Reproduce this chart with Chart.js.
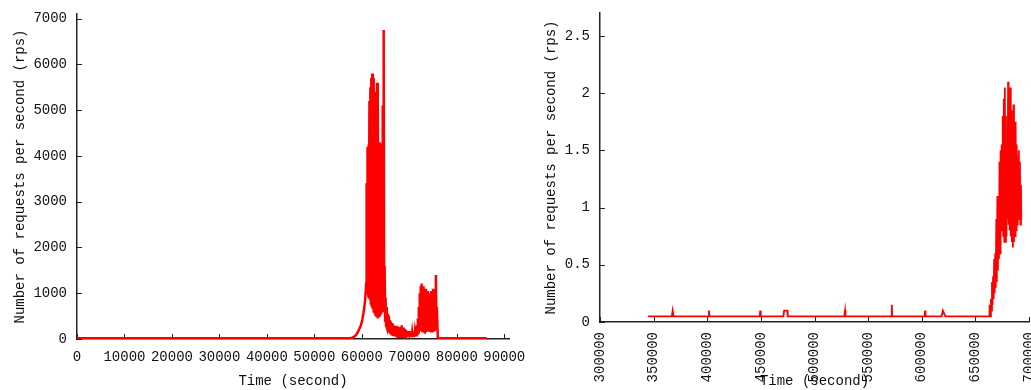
<!DOCTYPE html>
<html>
<head>
<meta charset="utf-8">
<title>Number of requests per second</title>
<script src="https://cdn.jsdelivr.net/npm/chart.js@4.4.1/dist/chart.umd.min.js"></script>
<style>
  body { margin: 0; background: #fff; }
  #wrap { position: relative; width: 1031px; height: 390px; overflow: hidden; }
  #leftChart { position: absolute; left: 0; top: 0; }
  #rightChart { position: absolute; left: 520px; top: 0; }
</style>
</head>
<body>
<div id="wrap">
  <canvas id="leftChart" width="531" height="390"></canvas>
  <canvas id="rightChart" width="511" height="390"></canvas>
</div>
<script>
// left plot: one day of traffic (time in seconds, rps)
const leftTime = [
  0, 57500, 58000, 58500, 59000, 59400, 59800, 60100, 60400, 60700, 60900,
  61000, 61100, 61200, 61300, 61400, 61500, 61600, 61700, 61800, 61900,
  62000, 62100, 62200, 62300, 62400, 62500, 62600, 62700, 62800, 62900,
  63000, 63100, 63200, 63300, 63400, 63500, 63600, 63700, 63800, 63900,
  64000, 64100, 64200, 64300, 64400, 64500, 64600, 64700, 64800, 64900,
  65000, 65100, 65200, 65300, 65400, 65500, 65600, 65700, 65800, 65900,
  66000, 66100, 66200, 66300, 66400, 66500, 66600, 66700, 66800, 66900,
  67000, 67100, 67200, 67300, 67400, 67500, 67600, 67700, 67800, 67900,
  68000, 68100, 68200, 68300, 68400, 68500, 68600, 68700, 68800, 68900,
  69000, 69100, 69200, 69300, 69400, 69500, 69600, 69700, 69800, 69900,
  70000, 70100, 70200, 70300, 70400, 70500, 70600, 70700, 70800, 70900,
  71000, 71100, 71200, 71300, 71400, 71500, 71600, 71700, 71800, 71900,
  72000, 72100, 72200, 72300, 72400, 72500, 72600, 72700, 72800, 72900,
  73000, 73100, 73200, 73300, 73400, 73500, 73600, 73700, 73800, 73900,
  74000, 74100, 74200, 74300, 74400, 74500, 74600, 74700, 74800, 74900,
  75000, 75100, 75200, 75300, 75400, 75500, 75600, 75700, 75800, 76000,
  76300, 86300
];
const leftRps = [
  15, 15, 30, 60, 120, 200, 300, 420, 600, 850, 1200,
  3400, 1100, 4200, 1000, 4250, 900, 5200, 850, 5500, 750,
  5700, 700, 5800, 650, 5700, 580, 5400, 550, 4300, 500,
  4250, 480, 5600, 450, 5200, 500, 4250, 520, 4300, 560,
  4200, 600, 4250, 620, 5100, 650, 6750, 700, 1600, 400,
  900, 300, 700, 250, 550, 200, 500, 150, 420, 120,
  380, 100, 350, 80, 340, 70, 300, 60, 280, 60,
  270, 50, 290, 50, 250, 50, 270, 50, 240, 50,
  260, 50, 230, 50, 300, 50, 240, 50, 250, 50,
  220, 40, 200, 40, 180, 40, 170, 40, 160, 40,
  170, 40, 150, 40, 160, 40, 140, 40, 150, 40,
  160, 50, 170, 60, 200, 80, 300, 120, 450, 150,
  700, 250, 1000, 200, 1150, 200, 1210, 180, 1100, 170,
  1150, 160, 950, 150, 1100, 150, 1000, 160, 1050, 170,
  900, 180, 1000, 160, 850, 150, 1050, 140, 900, 150,
  1100, 160, 850, 200, 950, 250, 1400, 300, 700, 40,
  15, 15
];
const leftXTicks = [0, 10000, 20000, 30000, 40000, 50000, 60000, 70000, 80000, 90000];
const leftYTicks = [0, 1000, 2000, 3000, 4000, 5000, 6000, 7000];

// right plot: longer trace, low rate
const rightTime = [
  344800, 367000, 367800, 368600, 401300, 401600, 402100, 449000, 449400, 449900,
  471000, 471700, 474600, 475000, 527800, 528500, 528900, 571900, 572100, 572400,
  602700, 603100, 603500, 618500, 619700, 622000, 662800,
  663000, 663500, 664000, 664500, 665000, 665500, 666000, 666500, 667000, 667500,
  668000, 668500, 669000, 669500, 670000, 670500, 671000, 671500, 672000, 672500,
  673000, 673500, 674000, 674500, 675000, 675500, 676000, 676500, 677000, 677500,
  678000, 678500, 679000, 679500, 680000, 680500, 681000, 681500, 682000, 682500,
  683000, 683500, 684000, 684500, 685000, 685500, 686000, 686500, 687000, 687500,
  688000, 688500, 689000, 689500, 690000, 690500, 691000, 691500, 692000, 692500,
  692800
];
const rightRps = [
  0.05, 0.05, 0.1, 0.05, 0.05, 0.1, 0.05, 0.05, 0.1, 0.05,
  0.05, 0.1, 0.1, 0.05, 0.05, 0.1, 0.05, 0.05, 0.15, 0.05,
  0.05, 0.1, 0.05, 0.05, 0.1, 0.05, 0.05,
  0.05, 0.15, 0.05, 0.2, 0.1, 0.35, 0.15, 0.4, 0.2, 0.55,
  0.25, 0.6, 0.3, 0.9, 0.35, 1.1, 0.45, 1.0, 0.55, 1.4,
  0.6, 1.5, 0.8, 1.55, 0.9, 1.8, 0.75, 1.95, 0.7, 2.05,
  0.7, 1.8, 0.75, 1.6, 0.9, 2.1, 0.85, 1.8, 0.8, 2.05,
  0.75, 1.8, 0.7, 1.85, 0.65, 1.9, 0.7, 1.6, 0.75, 1.75,
  0.8, 1.55, 0.85, 1.45, 0.9, 1.5, 0.9, 1.4, 0.85, 1.2,
  0.9
];
const rightXTicks = [300000, 350000, 400000, 450000, 500000, 550000, 600000, 650000, 700000];
const rightYTicks = [0, 0.5, 1, 1.5, 2, 2.5];

Chart.defaults.font.family = "'Liberation Mono', monospace";
Chart.defaults.font.size = 14;
Chart.defaults.color = "#111";

// small ticks pointing into the plot, like gnuplot
const innerTicks = {
  id: "innerTicks",
  beforeDatasetsDraw(chart) {
    const ctx = chart.ctx;
    const xs = chart.scales.x;
    const ys = chart.scales.y;
    ctx.save();
    ctx.strokeStyle = "#222";
    ctx.lineWidth = 1;
    ctx.beginPath();
    xs.ticks.forEach(t => {
      const px = Math.round(xs.getPixelForValue(t.value)) + 0.5;
      ctx.moveTo(px, xs.top);
      ctx.lineTo(px, xs.top - 5);
    });
    ys.ticks.forEach(t => {
      const py = Math.round(ys.getPixelForValue(t.value)) + 0.5;
      ctx.moveTo(ys.right, py);
      ctx.lineTo(ys.right + 5, py);
    });
    ctx.stroke();
    ctx.restore();
  }
};

function makeChart(id, times, values, opt) {
  const points = times.map((t, i) => ({ x: t, y: values[i] }));
  return new Chart(document.getElementById(id), {
    type: "line",
    data: {
      datasets: [{
        data: points,
        borderColor: "#ff0000",
        borderWidth: opt.lineWidth,
        pointRadius: 0,
        tension: 0,
        fill: false
      }]
    },
    options: {
      responsive: false,
      animation: false,
      devicePixelRatio: 1,
      layout: { padding: opt.padding },
      plugins: { legend: { display: false }, tooltip: { enabled: false } },
      scales: {
        x: {
          type: "linear",
          min: opt.xMin,
          max: opt.xMax,
          afterBuildTicks: s => { s.ticks = opt.xTicks.map(v => ({ value: v })); },
          afterFit: s => { s.height = opt.xHeight; s.paddingLeft = 0; s.paddingRight = 0; },
          grid: { display: false, drawTicks: false },
          border: { color: "#222", width: 1.5 },
          ticks: {
            autoSkip: false,
            minRotation: opt.rot,
            maxRotation: opt.rot,
            padding: 10,
            callback: v => String(v)
          },
          title: { display: true, text: "Time (second)", padding: { top: 0, bottom: 0 } }
        },
        y: {
          min: 0,
          max: opt.yMax,
          afterBuildTicks: s => { s.ticks = opt.yTicks.map(v => ({ value: v })); },
          afterFit: s => { s.width = opt.yWidth; s.paddingTop = 0; s.paddingBottom = 0; },
          grid: { display: false, drawTicks: false },
          border: { color: "#222", width: 1.5 },
          ticks: { padding: 10, callback: v => String(v) },
          title: {
            display: true,
            text: "Number of requests per second (rps)",
            padding: { top: opt.yTitlePad, bottom: 0 }
          }
        }
      }
    },
    plugins: [innerTicks]
  });
}

makeChart("leftChart", leftTime, leftRps, {
  lineWidth: 2.5,
  padding: { top: 14, right: 22, bottom: 0, left: 0 },
  xMin: 0, xMax: 91000, xTicks: leftXTicks, xHeight: 51, rot: 0,
  yMax: 7100, yTicks: leftYTicks, yWidth: 77, yTitlePad: 12
});

makeChart("rightChart", rightTime, rightRps, {
  lineWidth: 1.8,
  padding: { top: 13, right: 2, bottom: 0, left: 0 },
  xMin: 300000, xMax: 700000, xTicks: rightXTicks, xHeight: 68, rot: 90,
  yMax: 2.7, yTicks: rightYTicks, yWidth: 80, yTitlePad: 23
});
</script>
</body>
</html>
